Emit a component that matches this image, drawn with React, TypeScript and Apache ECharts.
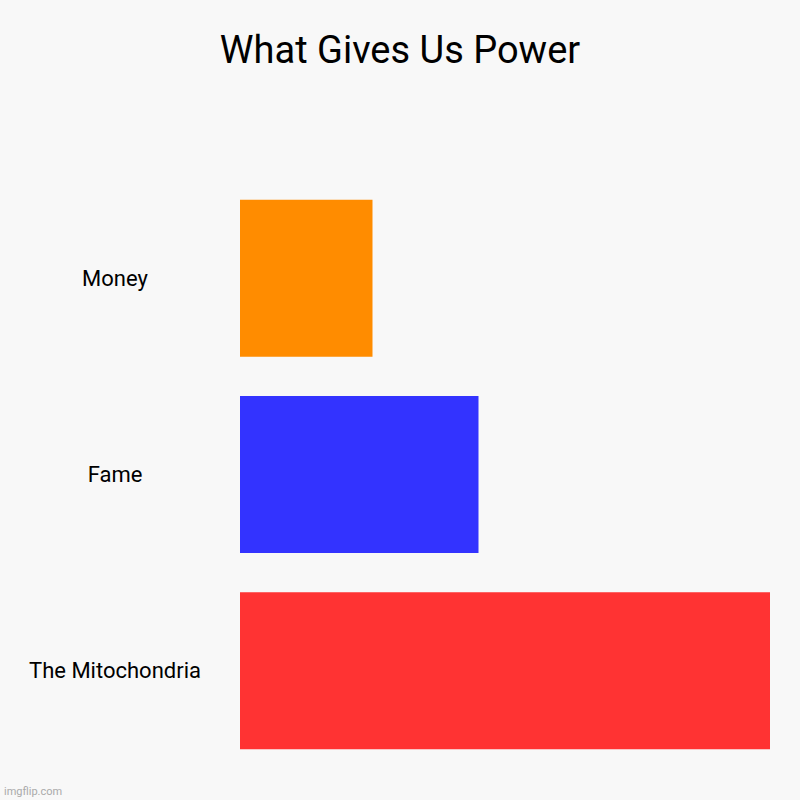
import { useEffect, useRef } from 'react';
import * as echarts from 'echarts';

const categories = ['Money', 'Fame', 'The Mitochondria'];
const values = [25, 45, 100];
const barColors = ['#ff8c00', '#3333ff', '#ff3333'];

const App: React.FC = () => {
  const divRef = useRef<HTMLDivElement | null>(null);

  useEffect(() => {
    if (!divRef.current) return;
    document.body.style.margin = '0';

    const chart = echarts.init(divRef.current, null, { renderer: 'svg' });
    chart.setOption({
      animation: false,
      backgroundColor: '#f8f8f8',
      textStyle: { fontFamily: 'Roboto' },
      title: {
        text: 'What Gives Us Power',
        left: 'center',
        top: 26,
        textStyle: { fontSize: 38, fontWeight: 'normal', color: '#000', fontFamily: 'Roboto' },
      },
      grid: { left: 240, right: 30, top: 180, bottom: 31 },
      xAxis: { type: 'value', min: 0, max: 100, show: false },
      yAxis: {
        type: 'category',
        inverse: true,
        data: categories,
        axisLine: { show: false },
        axisTick: { show: false },
        axisLabel: { align: 'center', margin: 125, fontSize: 22, color: '#000', fontFamily: 'Roboto' },
      },
      series: [
        {
          type: 'bar',
          barCategoryGap: '20%',
          data: values.map((v, i) => ({ value: v, itemStyle: { color: barColors[i] } })),
        },
      ],
      graphic: [
        {
          type: 'text',
          left: 4,
          bottom: 3,
          style: { text: 'imgflip.com', fontSize: 11, fill: '#aaaaaa', fontFamily: 'Roboto' },
        },
      ],
    });

    return () => chart.dispose();
  }, []);

  return <div ref={divRef} style={{ width: 800, height: 800 }} />;
};

export default App;
